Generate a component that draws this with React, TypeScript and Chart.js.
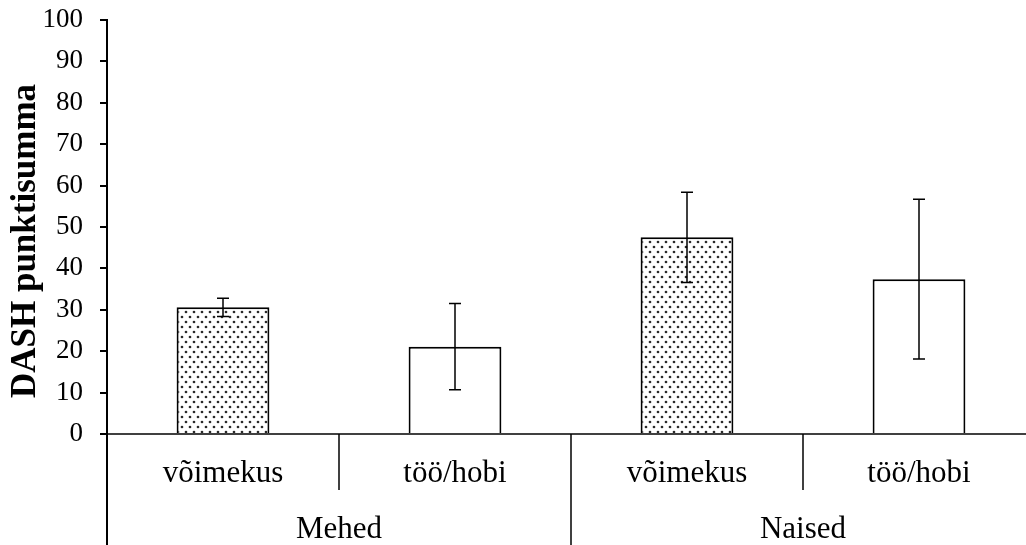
import React, { useEffect, useRef } from "react";
import { Chart, registerables } from "chart.js";

Chart.register(...registerables);

const categoryLabels = ["võimekus", "töö/hobi", "võimekus", "töö/hobi"];
const groupOfCategory = ["Mehed", "Mehed", "Naised", "Naised"];
const values = [30.6, 21.1, 47.5, 37.4];
const errors = [2.2, 10.4, 10.9, 19.3];
const patterned = [true, false, true, false];
const yMin = 0;
const yMax = 100;
const yStep = 10;
const yTitle = "DASH punktisumma";

const SERIF = '"Liberation Serif", "Times New Roman", serif';

function makeDots(ctx: CanvasRenderingContext2D): CanvasPattern | string {
  const c = document.createElement("canvas");
  c.width = 8;
  c.height = 10;
  const g = c.getContext("2d");
  if (!g) return "#fff";
  g.fillStyle = "#ffffff";
  g.fillRect(0, 0, 8, 10);
  g.fillStyle = "#2a2a2a";
  g.beginPath();
  g.arc(2, 2, 1.35, 0, Math.PI * 2);
  g.fill();
  g.beginPath();
  g.arc(6, 7, 1.35, 0, Math.PI * 2);
  g.fill();
  return ctx.createPattern(c, "repeat") || "#fff";
}

const overlayPlugin = {
  id: "overlay",
  afterDatasetsDraw(chart: any) {
    const ctx = chart.ctx as CanvasRenderingContext2D;
    const ys = chart.scales.y;
    const meta = chart.getDatasetMeta(0);
    ctx.save();
    ctx.strokeStyle = "#000";
    ctx.lineWidth = 1.5;
    meta.data.forEach((bar: any, i: number) => {
      const x = bar.x;
      const hi = ys.getPixelForValue(values[i] + errors[i]);
      const lo = ys.getPixelForValue(values[i] - errors[i]);
      const cap = 6;
      ctx.beginPath();
      ctx.moveTo(x, hi);
      ctx.lineTo(x, lo);
      ctx.moveTo(x - cap, hi);
      ctx.lineTo(x + cap, hi);
      ctx.moveTo(x - cap, lo);
      ctx.lineTo(x + cap, lo);
      ctx.stroke();
    });
    ctx.restore();
  },
  afterDraw(chart: any) {
    const ctx = chart.ctx as CanvasRenderingContext2D;
    const xs = chart.scales.x;
    const ys = chart.scales.y;
    const area = chart.chartArea;
    const base = ys.getPixelForValue(0);
    const H = chart.height;
    ctx.save();
    ctx.strokeStyle = "#000";
    // x baseline
    ctx.lineWidth = 1.5;
    ctx.beginPath();
    ctx.moveTo(area.left, base);
    ctx.lineTo(area.right, base);
    ctx.stroke();
    // y axis extension below
    ctx.lineWidth = 2;
    ctx.beginPath();
    ctx.moveTo(area.left, area.top);
    ctx.lineTo(area.left, H);
    ctx.stroke();
    // dividers
    ctx.lineWidth = 1.5;
    for (let i = 0; i < categoryLabels.length - 1; i++) {
      const bx = (xs.getPixelForValue(i) + xs.getPixelForValue(i + 1)) / 2;
      const long = groupOfCategory[i] !== groupOfCategory[i + 1];
      ctx.beginPath();
      ctx.moveTo(bx, base);
      ctx.lineTo(bx, long ? H : base + 56);
      ctx.stroke();
    }
    // category labels
    ctx.fillStyle = "#000";
    ctx.textAlign = "center";
    ctx.textBaseline = "alphabetic";
    ctx.font = `31px ${SERIF}`;
    categoryLabels.forEach((lab, i) => {
      ctx.fillText(lab, xs.getPixelForValue(i), base + 48);
    });
    // group labels
    const groups: string[] = [];
    groupOfCategory.forEach((g) => {
      if (!groups.includes(g)) groups.push(g);
    });
    groups.forEach((g) => {
      const idx = groupOfCategory
        .map((v, i) => (v === g ? i : -1))
        .filter((i) => i >= 0);
      const cx =
        (xs.getPixelForValue(idx[0]) + xs.getPixelForValue(idx[idx.length - 1])) / 2;
      ctx.fillText(g, cx, base + 104);
    });
    // y title
    ctx.save();
    ctx.translate(26, (area.top + area.bottom) / 2 + 14);
    ctx.rotate(-Math.PI / 2);
    ctx.font = `bold 35px ${SERIF}`;
    ctx.textBaseline = "middle";
    ctx.textAlign = "center";
    ctx.fillText(yTitle, 0, 0);
    ctx.restore();
    ctx.restore();
  },
};

export default function App() {
  const ref = useRef<HTMLCanvasElement | null>(null);
  useEffect(() => {
    const canvas = ref.current;
    if (!canvas) return;
    const ctx = canvas.getContext("2d");
    if (!ctx) return;
    const dots = makeDots(ctx);
    const chart = new Chart(canvas, {
      type: "bar",
      data: {
        labels: categoryLabels.map((l, i) => `${groupOfCategory[i]} ${l}`),
        datasets: [
          {
            data: values,
            backgroundColor: patterned.map((p) => (p ? dots : "#ffffff")) as any,
            borderColor: "#000",
            borderWidth: 2,
            borderSkipped: "bottom",
            barPercentage: 0.4,
            categoryPercentage: 1,
          },
        ],
      },
      options: {
        responsive: false,
        animation: false,
        devicePixelRatio: 1,
        layout: { padding: { top: 20, bottom: 111, left: 0, right: 0 } },
        plugins: { legend: { display: false }, tooltip: { enabled: false } },
        scales: {
          x: { display: false },
          y: {
            min: yMin,
            max: yMax,
            afterFit: (scale: any) => {
              scale.width = 107;
              scale.paddingTop = 0;
              scale.paddingBottom = 0;
            },
            ticks: {
              stepSize: yStep,
              color: "#000",
              padding: 17,
              font: { family: SERIF, size: 27 },
            },
            grid: {
              drawOnChartArea: false,
              drawTicks: true,
              tickLength: 7,
              color: "#000",
              lineWidth: 2,
            },
            border: { display: true, color: "#000", width: 2 },
          },
        },
      },
      plugins: [overlayPlugin],
    });
    return () => chart.destroy();
  }, []);
  return (
    <div
      style={{
        position: "fixed",
        left: 0,
        top: 0,
        width: 1026,
        height: 545,
        overflow: "hidden",
        background: "#fff",
      }}
    >
      <canvas ref={ref} width={1035} height={545} style={{ display: "block" }} />
    </div>
  );
}
